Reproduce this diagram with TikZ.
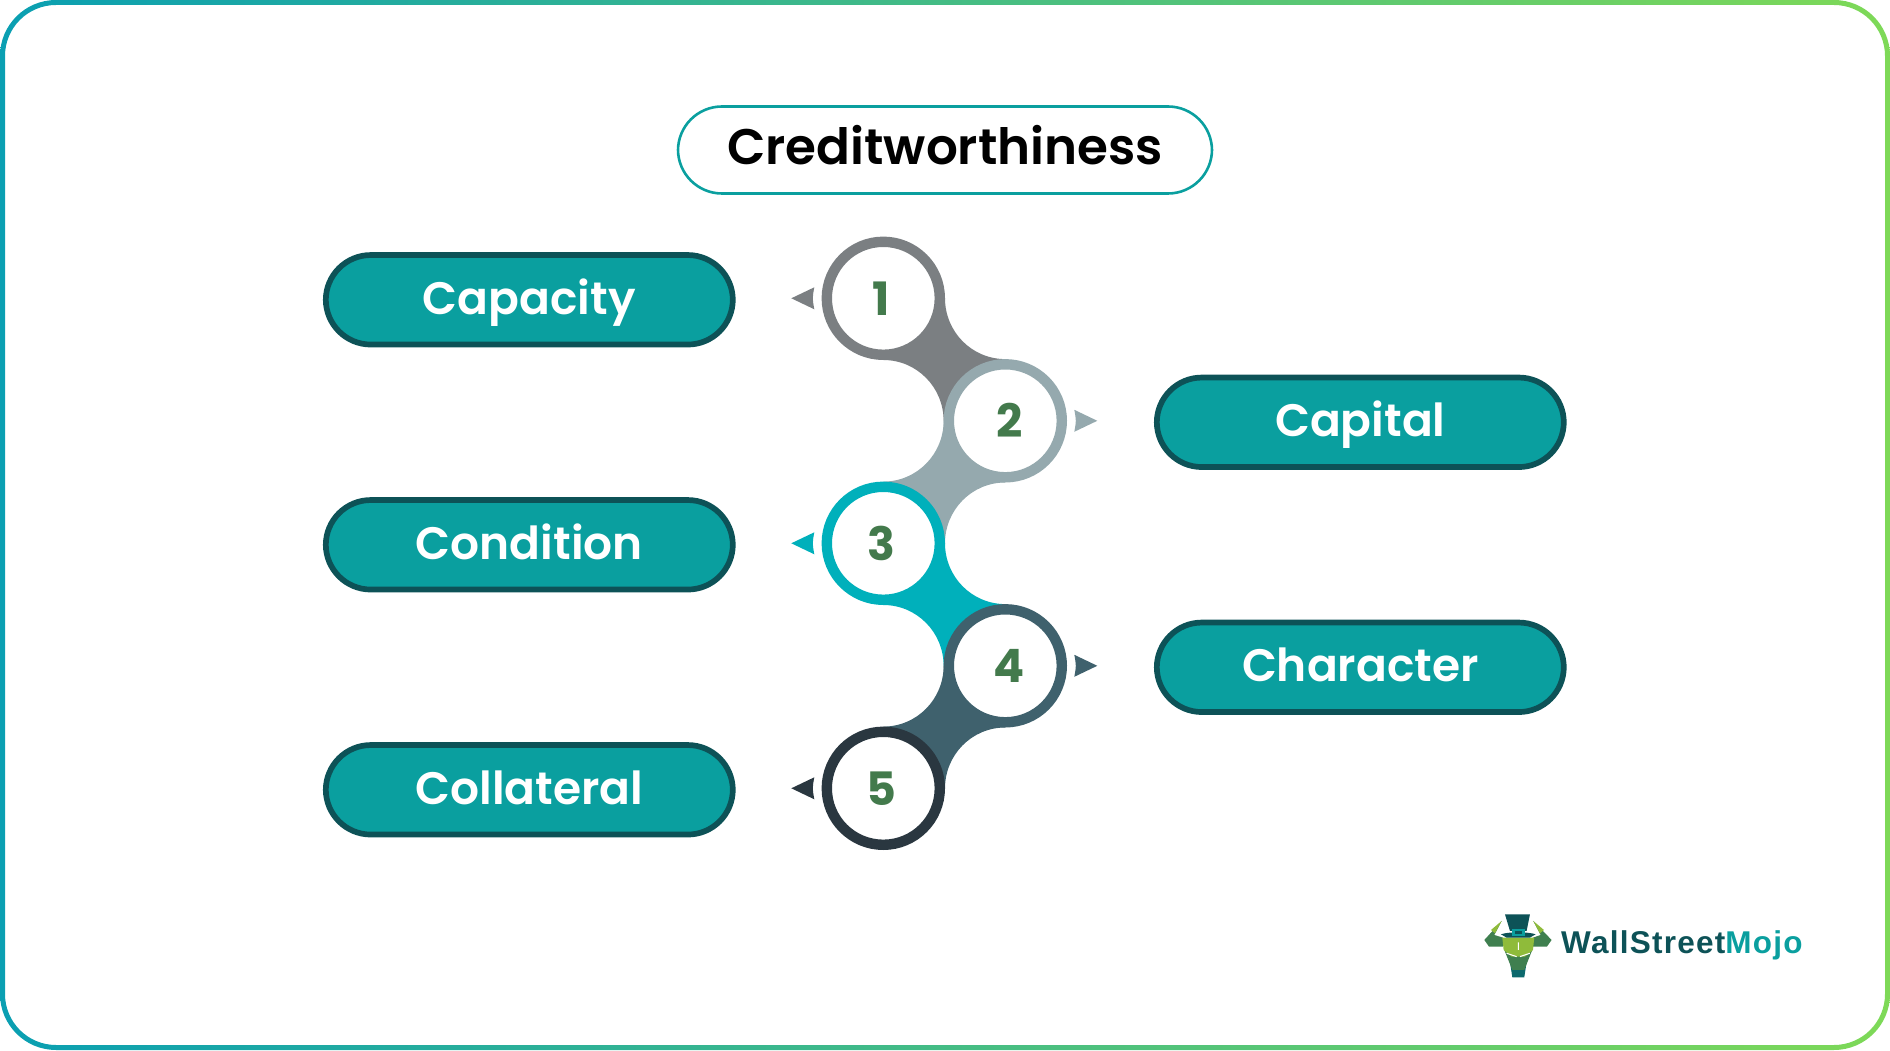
\documentclass[tikz,border=0pt]{standalone}
\usepackage{fontspec}
\setmainfont{Poppins}
\newfontfamily\labelfont{Poppins SemiBold}
\newfontfamily\titlefont{Poppins SemiBold}
\newfontfamily\numfont{Poppins Bold}
\newfontfamily\logofont[LetterSpace=4]{Liberation Sans}
\usetikzlibrary{positioning}
\usetikzlibrary{backgrounds}
\definecolor{greyone}{HTML}{7B7F82}
\definecolor{greytwo}{HTML}{95A9AE}
\definecolor{tealthree}{HTML}{00B0BB}
\definecolor{slatefour}{HTML}{3F616D}
\definecolor{darkfive}{HTML}{2A3740}
\definecolor{pillfill}{HTML}{0A9F9F}
\definecolor{pillline}{HTML}{0D5257}
\definecolor{numgreen}{HTML}{437A4C}
\definecolor{framea}{HTML}{0A9FB2}
\definecolor{frameb}{HTML}{7ED957}
\definecolor{bullgreen}{HTML}{8FBB3A}
\definecolor{bulldark}{HTML}{3F7F4F}
\tikzset{
  step circle/.style={circle, draw=#1, line width=10.4pt, fill=white, minimum size=113pt, inner sep=0pt},
  step num/.style={inner sep=0pt, text=numgreen, font=\numfont\fontsize{46}{50}\selectfont},
  pill/.style={rounded corners=45pt, draw=pillline, fill=pillfill, line width=5.7pt, minimum width=407pt,
    minimum height=89.5pt, inner sep=0pt, text height=37pt, text depth=8pt, yshift=-1.5pt, text=white,
    font=\labelfont\fontsize{45.5}{50}\selectfont},
}
\begin{document}
\begin{tikzpicture}[x=1pt, y=1pt, on grid]
    \useasboundingbox (0,0) rectangle (1890,1050);
    \path[left color=framea, right color=frameb, even odd rule, rounded corners=56pt]
      (0,0) rectangle (1890,1050) [rounded corners=51pt] (5,5) rectangle (1885,1045);
% title
    \node[rounded corners=44pt, draw=pillfill, line width=2.6pt, minimum width=534pt, minimum height=87pt,
      text height=40pt, text depth=10pt, font=\titlefont\fontsize{50}{56}\selectfont] (title) at (945,900) {Creditworthiness} ; %
% numbered circles
    \node[step circle=greyone] (n1) at (883.3,751.7) {} ; %
    \node[step circle=greytwo, below right=122.5pt and 122pt of n1] (n2) {} ; %
    \node[step circle=tealthree, below left=122.5pt and 122pt of n2] (n3) {} ; %
    \node[step circle=slatefour, below right=122.5pt and 122pt of n3] (n4) {} ; %
    \node[step circle=darkfive, below left=122.5pt and 122pt of n4] (n5) {} ; %
    \node[step num, xshift=-2.5pt] (num1) at (n1) {1} ; %
    \node[step num, xshift=4pt] (num2) at (n2) {2} ; %
    \node[step num, xshift=-2pt] (num3) at (n3) {3} ; %
    \node[step num, xshift=4pt] (num4) at (n4) {4} ; %
    \node[step num, xshift=-2pt] (num5) at (n5) {5} ; %
% labels
    \node[pill, left=354pt of n1] (capacity) {Capacity} ; %
    \node[pill, right=355pt of n2] (capital) {Capital} ; %
    \node[pill, left=354pt of n3] (condition) {Condition} ; %
    \node[pill, right=355pt of n4] (character) {Character} ; %
    \node[pill, left=354pt of n5] (collateral) {Collateral} ; %
% connectors
    \begin{scope}[on background layer]
    \fill[greyone] (n1.south) to[out=0,in=90] (n2.west) -- (n2.north) to[out=180,in=-90] (n1.east) -- cycle ; %
    \fill[greytwo] (n2.west) to[out=-90,in=0] (n3.north) -- (n3.east) to[out=90,in=180] (n2.south) -- cycle ; %
    \fill[tealthree] (n3.south) to[out=0,in=90] (n4.west) -- (n4.north) to[out=180,in=-90] (n3.east) -- cycle ; %
    \fill[slatefour] (n4.west) to[out=-90,in=0] (n5.north) -- (n5.east) to[out=90,in=180] (n4.south) -- cycle ; %
    \end{scope}
% arrow tips
    \fill[greyone, shift={(n1.center)}] (-92,0) -- (-69,11) .. controls (-71,0) .. (-69,-11) -- cycle ; %
    \fill[greytwo, shift={(n2.center)}] (92,0) -- (69,11) .. controls (71,0) .. (69,-11) -- cycle ; %
    \fill[tealthree, shift={(n3.center)}] (-92,0) -- (-69,11) .. controls (-71,0) .. (-69,-11) -- cycle ; %
    \fill[slatefour, shift={(n4.center)}] (92,0) -- (69,11) .. controls (71,0) .. (69,-11) -- cycle ; %
    \fill[darkfive, shift={(n5.center)}] (-92,0) -- (-69,11) .. controls (-71,0) .. (-69,-11) -- cycle ; %
% logo
    \node[anchor=west, inner sep=0pt, font=\logofont\bfseries\fontsize{31.5}{36}\selectfont, text=pillline] (logo)
      at (1561,105) {WallStreet\textcolor{pillfill}{Mojo}} ; %
    \begin{scope}[shift={(1475,145)}, x=.333pt, y=-.333pt]
    % horns
    \fill[bulldark] (80,48) -- (58,90) -- (84,98) -- (84,125) -- (42,125) -- (28,105) -- cycle ; %
    \fill[bulldark] (175,48) -- (197,90) -- (174,98) -- (174,125) -- (216,125) -- (230,105) -- cycle ; %
    \fill[bullgreen] (80,48) -- (60,85) -- (48,75) -- cycle ; %
    \fill[bullgreen] (175,48) -- (195,85) -- (207,75) -- cycle ; %
    % face
    \fill[pillline!70!pillfill] (104,165) -- (112,217) -- (148,217) -- (156,165) -- cycle ; %
    \fill[bulldark] (88,135) -- (104,175) -- (112,195) -- (148,195) -- (156,175) -- (172,135) -- cycle ; %
    \fill[bullgreen] (82,98) -- (178,98) -- (174,135) -- (150,155) -- (110,155) -- (86,135) -- cycle ; %
    \draw[white, line width=1pt] (95,145) -- (125,155) (165,145) -- (135,155) (130,112) -- (130,135) ; %
    % hat
    \fill[pillline] (90,28) -- (165,28) -- (155,78) -- (105,78) -- cycle ; %
    \fill[pillline] (78,88) .. controls (100,80) and (160,80) .. (182,88) -- (165,98) -- (95,98) -- cycle ; %
    \fill[pillfill] (110,72) rectangle (150,92) ; %
    \fill[pillline] (119,78) rectangle (141,88) ; %
    \end{scope}
\end{tikzpicture}
\end{document}
